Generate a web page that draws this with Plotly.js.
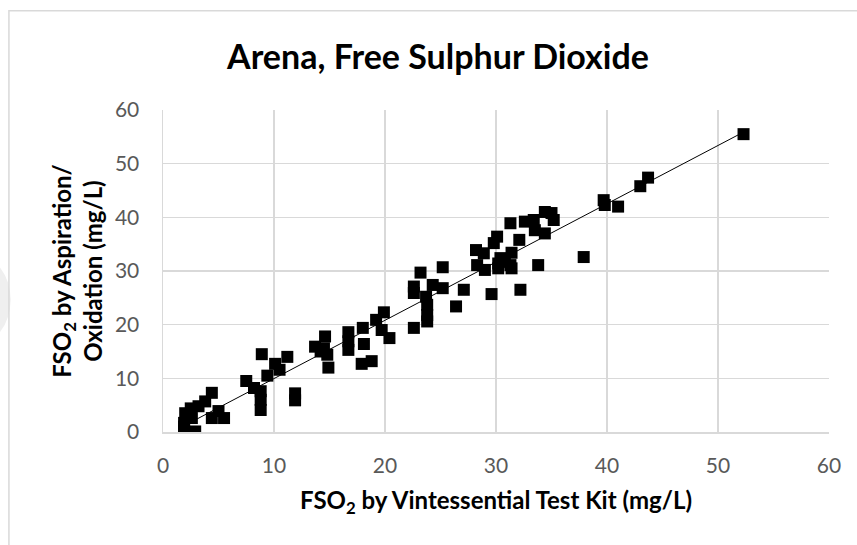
<!DOCTYPE html>
<html>
<head>
<meta charset="utf-8">
<script src="https://cdn.plot.ly/plotly-3.0.1.min.js"></script>
<style>
html,body{margin:0;padding:0;background:#fff;}
#chart{width:857px;height:545px;}
</style>
</head>
<body>
<div id="chart"></div>
<script>
// FSO2 by Vintessential Test Kit (mg/L)
const kitValues = [
  1.9, 2.9, 1.9, 1.9, 2.6, 2.0, 2.5, 3.2, 3.8, 4.4, 5.0, 4.4, 5.5,
  7.5, 8.2, 8.8, 8.8, 8.8, 8.9, 9.4, 10.1, 10.5, 11.2, 11.9, 11.9,
  13.7, 14.2, 14.6, 14.5, 14.8, 14.9, 16.7, 16.7, 16.7, 18.0, 18.1, 17.9, 18.8,
  19.2, 19.7, 19.9, 20.4,
  22.6, 22.6, 22.6, 23.2, 23.7, 24.3, 25.2, 25.2, 23.8, 23.8, 23.8, 26.4, 27.1,
  28.2, 28.9, 28.3, 29.0, 29.6, 29.8, 30.1, 30.4, 30.2, 30.2, 30.8, 31.3, 31.4,
  31.4, 31.3, 32.1, 32.6, 33.4, 33.5, 34.4, 34.4, 35.0, 35.2, 33.8, 32.2,
  37.9, 39.7, 39.8, 41.0, 43.0, 43.7, 52.3
];
// FSO2 by Aspiration/Oxidation (mg/L)
const aoValues = [
  0.2, 0.1, 1.0, 1.7, 2.6, 3.5, 4.4, 4.8, 5.7, 7.3, 3.9, 2.6, 2.6,
  9.5, 8.2, 7.6, 6.0, 4.1, 14.5, 10.5, 12.7, 11.6, 14.0, 7.2, 5.9,
  15.9, 15.0, 17.8, 15.6, 14.4, 12.0, 18.6, 16.9, 15.3, 19.4, 16.4, 12.7, 13.2,
  20.9, 19.0, 22.3, 17.5,
  19.4, 27.1, 25.9, 29.7, 25.2, 27.4, 26.8, 30.7, 23.7, 21.8, 20.6, 23.4, 26.5,
  33.9, 33.3, 31.1, 30.2, 25.7, 35.2, 36.4, 32.4, 30.5, 31.4, 31.7, 31.1, 30.5,
  33.4, 38.9, 35.8, 39.2, 39.5, 37.6, 37.0, 41.0, 40.8, 39.5, 31.1, 26.5,
  32.6, 43.2, 42.3, 42.0, 45.8, 47.4, 55.5
];
const axisTicks = [0, 10, 20, 30, 40, 50, 60];
const chartTitle = 'Arena, Free Sulphur Dioxide';
const xTitle = 'FSO<sub>2</sub> by Vintessential Test Kit (mg/L)';
const yTitle = 'FSO<sub>2</sub> by Aspiration/<br>Oxidation (mg/L)';

// Linear trendline (least squares), spanning the data range like Excel
const n = kitValues.length;
const mx = kitValues.reduce((a,b)=>a+b,0)/n;
const my = aoValues.reduce((a,b)=>a+b,0)/n;
let sxy = 0, sxx = 0;
for (let i=0;i<n;i++){ sxy += (kitValues[i]-mx)*(aoValues[i]-my); sxx += (kitValues[i]-mx)**2; }
const slope = sxy/sxx, intercept = my - slope*mx;
const xMin = Math.min(...kitValues), xMax = Math.max(...kitValues);

const font = '"Lato", "Open Sans", sans-serif';

const traces = [
  {
    x: [xMin, xMax],
    y: [slope*xMin+intercept, slope*xMax+intercept],
    mode: 'lines',
    line: {color: '#000000', width: 1},
    hoverinfo: 'skip',
    showlegend: false
  },
  {
    x: kitValues,
    y: aoValues,
    mode: 'markers',
    marker: {symbol: 'square', size: 12, color: '#000000'},
    showlegend: false
  }
];

const gridColor = '#d9d9d9';
const L = 162.5, R = 28, T = 110, B = 112.7;
const PW = 857 - L - R, PH = 545 - T - B;
const px2x = p => (p - L) / PW;
const py2y = p => (545 - B - p) / PH;

const layout = {
  width: 857, height: 545,
  margin: {l: L, r: R, t: T, b: B},
  paper_bgcolor: '#ffffff', plot_bgcolor: '#ffffff',
  showlegend: false,
  title: {
    text: '<b>' + chartTitle + '</b>',
    font: {family: font, size: 34, color: '#000000'},
    x: 438/857, xanchor: 'center', y: 1 - 57/545, yanchor: 'middle'
  },
  xaxis: {
    range: [0, 60], tickvals: axisTicks, ticktext: axisTicks.map(String),
    showgrid: true, gridcolor: gridColor, gridwidth: 1.5,
    showline: true, linecolor: gridColor, linewidth: 1.5, zeroline: false,
    ticks: '', ticklen: 0, ticklabelstandoff: 14,
    tickfont: {family: font, size: 21, color: '#595959'},
    title: {text: '<b>' + xTitle + '</b>', font: {family: font, size: 24, color: '#000000'}, standoff: 16},
    fixedrange: true
  },
  yaxis: {
    range: [0, 60], tickvals: axisTicks, ticktext: axisTicks.map(String),
    showgrid: true, gridcolor: gridColor, gridwidth: 1.5,
    showline: true, linecolor: gridColor, linewidth: 1.5, zeroline: false,
    ticks: '', ticklen: 0, ticklabelstandoff: 18,
    tickfont: {family: font, size: 21, color: '#595959'},
    title: {text: '<b>' + yTitle + '</b>', font: {family: font, size: 24, color: '#000000'}, standoff: 5},
    fixedrange: true
  },
  shapes: [
    {type: 'circle', xref: 'paper', yref: 'paper',
     x0: px2x(-60), x1: px2x(10), y0: py2y(345), y1: py2y(255),
     line: {width: 0}, fillcolor: '#efefef', layer: 'below'},
    {type: 'rect', xref: 'paper', yref: 'paper',
     x0: px2x(8.3), x1: px2x(880), y0: py2y(570), y1: py2y(10.7),
     line: {color: '#d9d9d9', width: 1.5}, fillcolor: 'rgba(0,0,0,0)', layer: 'below'}
  ]
};

Plotly.newPlot('chart', traces, layout, {displayModeBar: false, staticPlot: true});
</script>
</body>
</html>
